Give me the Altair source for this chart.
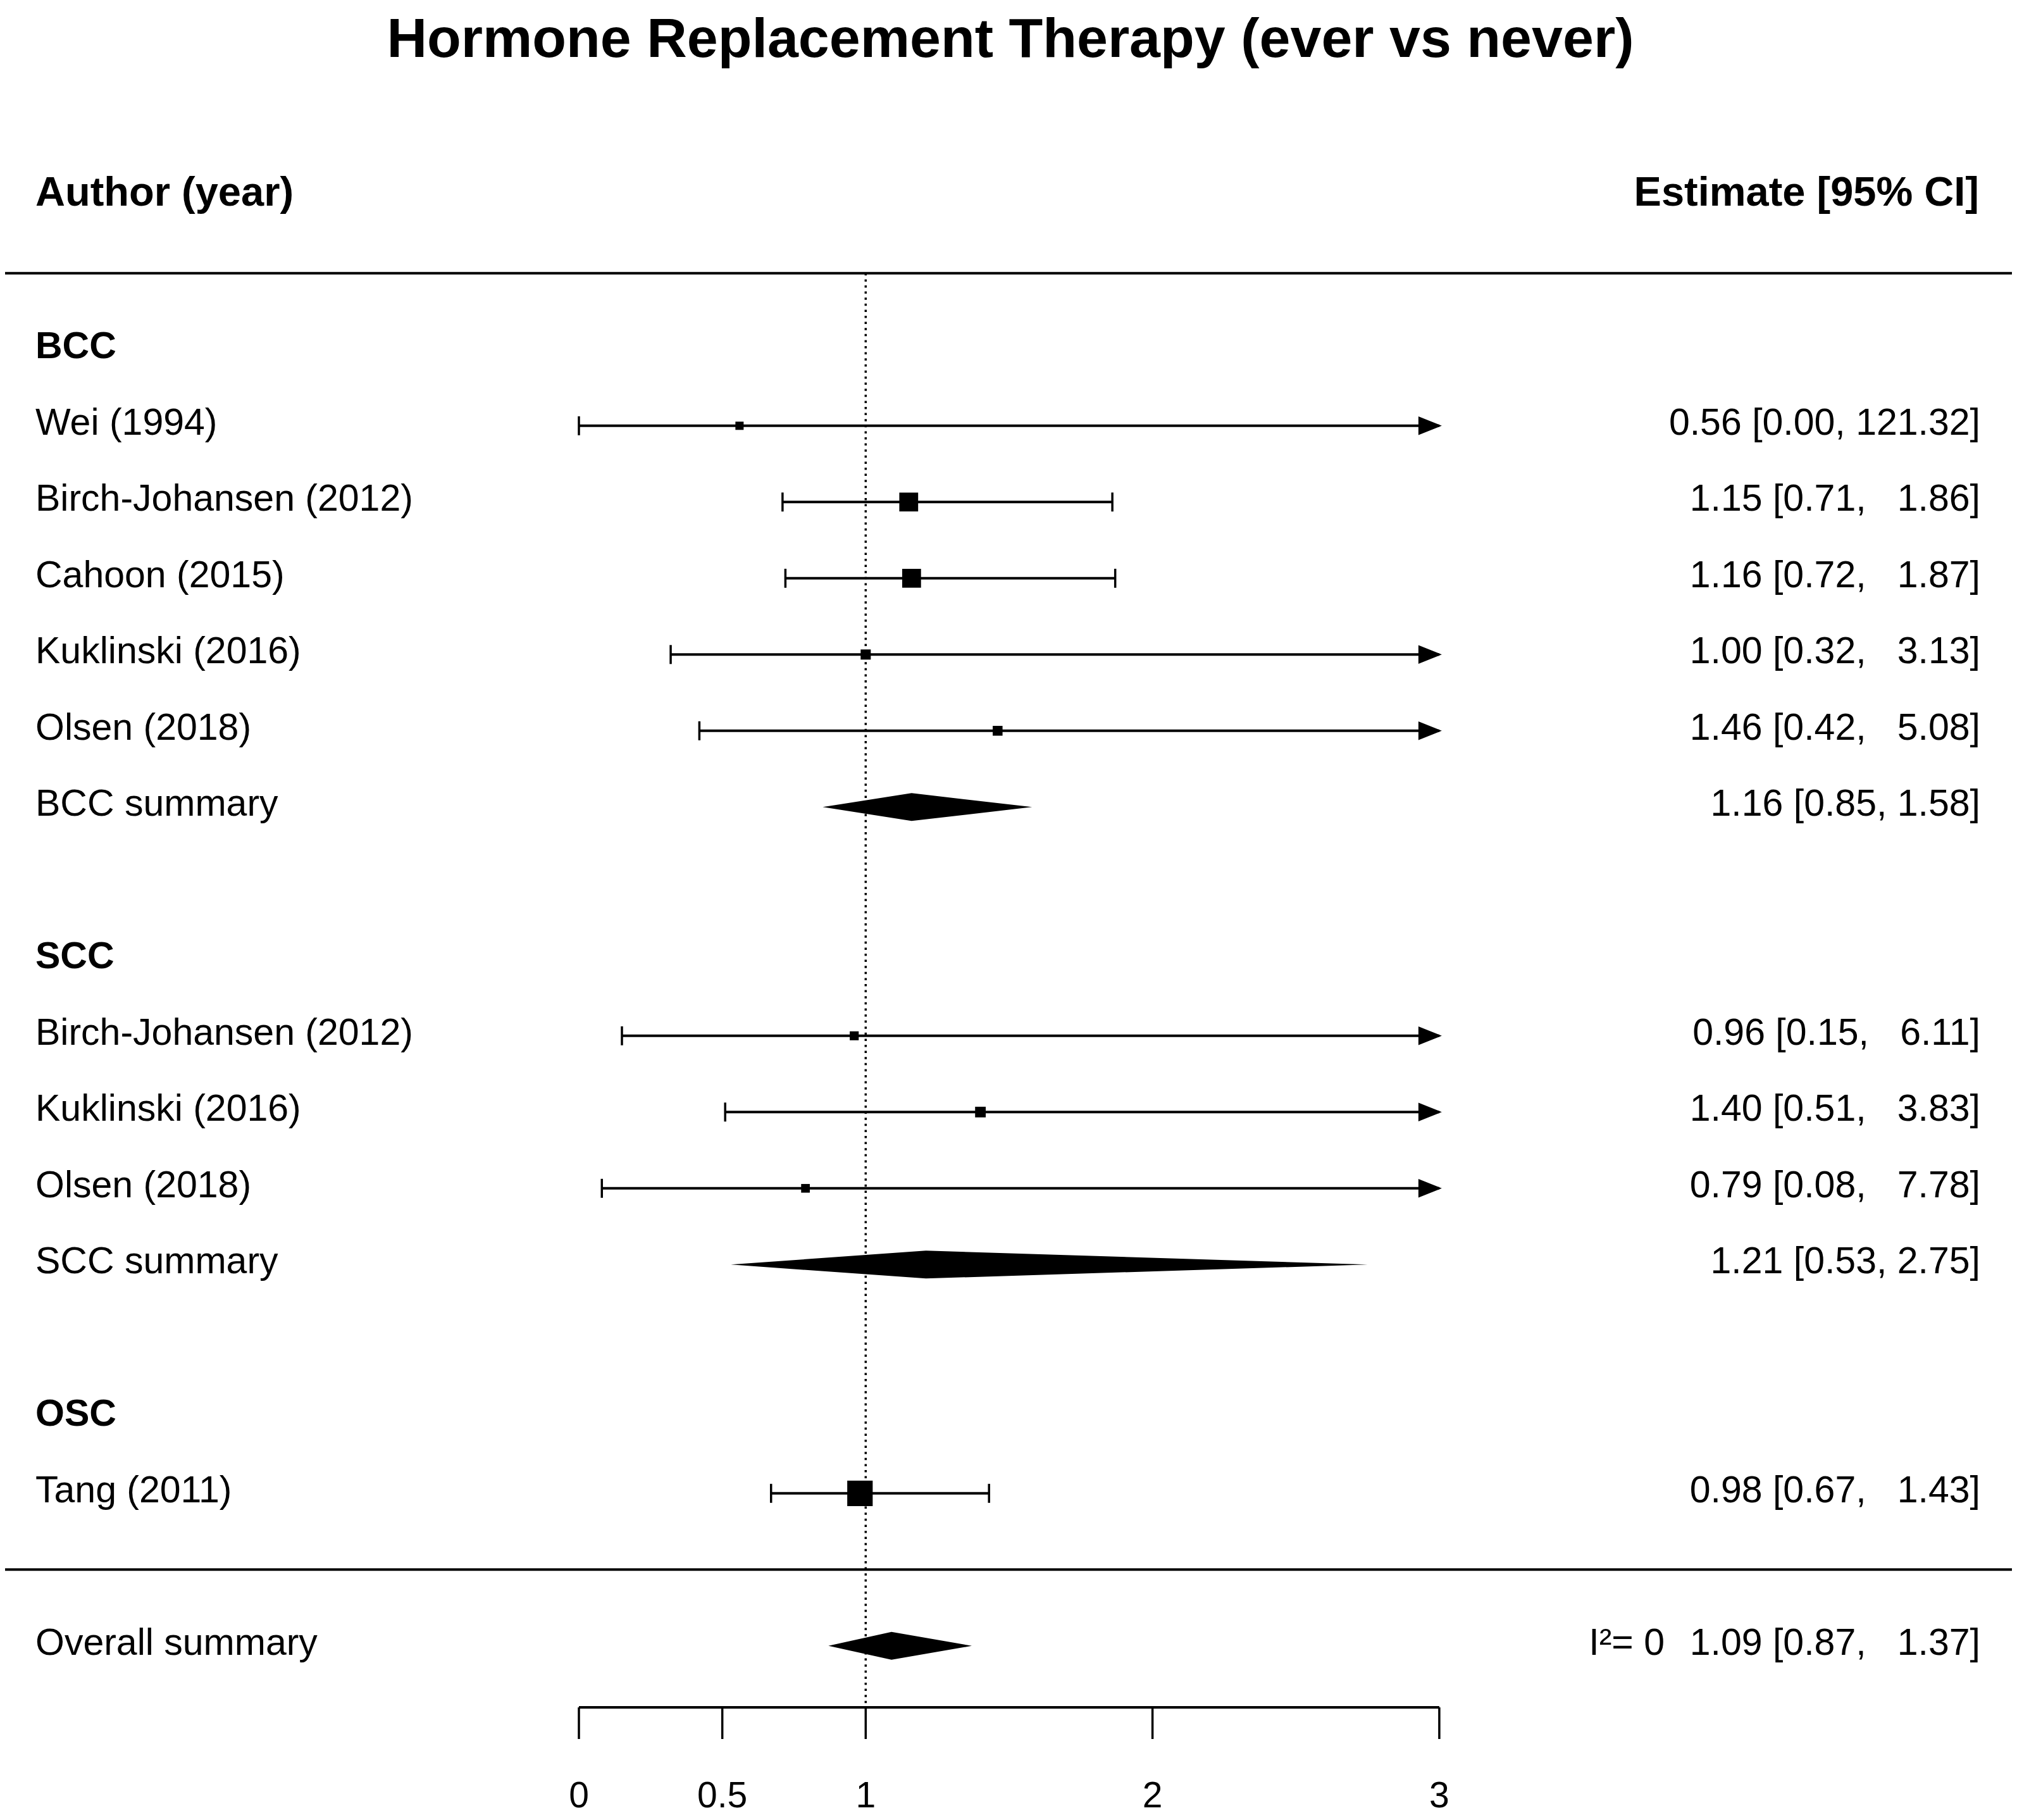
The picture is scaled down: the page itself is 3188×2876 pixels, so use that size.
import altair as alt
import pandas as pd

# ---------------- data ----------------
title_text = "Hormone Replacement Therapy (ever vs never)"
left_header = "Author (year)"
right_header = "Estimate [95% CI]"

bcc_authors = ["Wei (1994)", "Birch-Johansen (2012)", "Cahoon (2015)",
               "Kuklinski (2016)", "Olsen (2018)"]
bcc_est = [0.56, 1.15, 1.16, 1.00, 1.46]
bcc_lo = [0.00, 0.71, 0.72, 0.32, 0.42]
bcc_hi = [121.32, 1.86, 1.87, 3.13, 5.08]
bcc_wt = [0.0, 23.3, 23.3, 4.2, 3.5]          # relative weight (%)
bcc_summary = [1.16, 0.85, 1.58]

scc_authors = ["Birch-Johansen (2012)", "Kuklinski (2016)", "Olsen (2018)"]
scc_est = [0.96, 1.40, 0.79]
scc_lo = [0.15, 0.51, 0.08]
scc_hi = [6.11, 3.83, 7.78]
scc_wt = [1.6, 5.3, 1.0]
scc_summary = [1.21, 0.53, 2.75]

osc_authors = ["Tang (2011)"]
osc_est = [0.98]
osc_lo = [0.67]
osc_hi = [1.43]
osc_wt = [37.8]

overall_label = "Overall summary"
overall = [1.09, 0.87, 1.37]
i2_text = "I\u00b2= 0"

tick_values = [0, 0.5, 1, 2, 3]
null_value = [1]
x_max = 3

# ---------------- layout constants (pixels) ----------------
W, H = 3172, 2860
X0, UNIT = 907.0, 453.3        # pixel of x=0, pixels per unit
ROW0, PITCH = 544.3, 120.5     # pixel of row 0, row pitch
FONT = "Liberation Sans"
NB = "\u00a0"

xs = alt.Scale(domain=[-X0 / UNIT, (W - X0) / UNIT], nice=False, zero=False)
ys = alt.Scale(domain=[-ROW0 / PITCH, (H - ROW0) / PITCH], nice=False,
               zero=False, reverse=True)


def fmt_pad(e, l, h):
    return f"{e:.2f} [{l:.2f}, {h:>6.2f}]".replace(" ", NB)


def fmt_plain(e, l, h):
    return f"{e:.2f} [{l:.2f}, {h:.2f}]".replace(" ", NB)


# ---------------- build tables ----------------
study_rows, label_rows, est_rows, diamond_rows = [], [], [], []
groups = [
    ("BCC", bcc_authors, bcc_est, bcc_lo, bcc_hi, bcc_wt, bcc_summary),
    ("SCC", scc_authors, scc_est, scc_lo, scc_hi, scc_wt, scc_summary),
    ("OSC", osc_authors, osc_est, osc_lo, osc_hi, osc_wt, None),
]
HALF = 22.0 / PITCH  # diamond half height in row units


def add_diamond(key, r, e, l, h):
    diamond_rows.append(dict(key=key, x=l, ytop=r, ybot=r))
    diamond_rows.append(dict(key=key, x=e, ytop=r - HALF, ybot=r + HALF))
    diamond_rows.append(dict(key=key, x=h, ytop=r, ybot=r))


r = 0
for gname, authors, est, lo, hi, wt, summ in groups:
    label_rows.append(dict(row=r, label=gname, bold=True))
    r += 1
    for a, e, l, h, w in zip(authors, est, lo, hi, wt):
        study_rows.append(dict(row=r, est=e, lo=l, hi=h, hi_clip=min(h, x_max),
                               w=w))
        label_rows.append(dict(row=r, label=a, bold=False))
        est_rows.append(dict(row=r, label=fmt_pad(e, l, h)))
        r += 1
    if summ is not None:
        label_rows.append(dict(row=r, label=f"{gname} summary", bold=False))
        est_rows.append(dict(row=r, label=fmt_plain(*summ)))
        add_diamond(gname, r, *summ)
        r += 2

sep_rows = [-1, r]              # rules above first group and below last study
overall_row = r + 1
label_rows.append(dict(row=overall_row, label=overall_label, bold=False))
est_rows.append(dict(row=overall_row, label=fmt_pad(*overall)))
add_diamond("overall", overall_row, *overall)

studies = pd.DataFrame(study_rows)
studies["area"] = (13 + 0.72 * studies["w"]) ** 2
labels = pd.DataFrame(label_rows)
ests = pd.DataFrame(est_rows)
diamonds = pd.DataFrame(diamond_rows)
seps = pd.DataFrame({"row": sep_rows})
ticks = pd.DataFrame({"v": tick_values, "t": [f"{t:g}" for t in tick_values]})
axis_df = pd.DataFrame({"a": [min(tick_values)], "b": [max(tick_values)]})
null_df = pd.DataFrame({"v": null_value})

TOP_Y = ROW0 - PITCH
AXIS_Y = 2690
X = lambda f: alt.X(f, scale=xs, axis=None)
Y = lambda f: alt.Y(f, scale=ys, axis=None)

# ---------------- layers ----------------
sep_layer = alt.Chart(seps).mark_rule(color="black", strokeWidth=4).encode(
    x=alt.value(0), x2=alt.value(3174), y=Y("row:Q"))

null_layer = alt.Chart(null_df).mark_rule(
    color="black", strokeWidth=3.5, strokeDash=[3.5, 6.1]).encode(
    x=X("v:Q"), y=alt.value(TOP_Y), y2=alt.value(AXIS_Y))

ci_layer = alt.Chart(studies).mark_rule(color="black", strokeWidth=4).encode(
    x=X("lo:Q"), x2="hi_clip:Q", y=Y("row:Q"))

cap_lo = alt.Chart(studies).mark_tick(
    orient="vertical", size=30, thickness=3.5, color="black", opacity=1).encode(
    x=X("lo:Q"), y=Y("row:Q"))

cap_hi = alt.Chart(studies).transform_filter(f"datum.hi <= {x_max}").mark_tick(
    orient="vertical", size=30, thickness=3.5, color="black", opacity=1).encode(
    x=X("hi:Q"), y=Y("row:Q"))

arrow_layer = alt.Chart(studies).transform_filter(f"datum.hi > {x_max}").mark_point(
    shape="M-1,-0.8L1,0L-1,0.8Z", filled=True, size=1369, color="black",
    opacity=1, xOffset=-14.5).encode(x=X("hi_clip:Q"), y=Y("row:Q"))

square_layer = alt.Chart(studies).mark_square(
    color="black", opacity=1, filled=True).encode(
    x=X("est:Q"), y=Y("row:Q"), size=alt.Size("area:Q", scale=None))

diamond_layer = alt.Chart(diamonds).mark_area(
    orient="vertical", color="black", opacity=1).encode(
    x=X("x:Q"), y=Y("ytop:Q"), y2="ybot:Q", detail="key:N")

label_norm = alt.Chart(labels).transform_filter("!datum.bold").mark_text(
    align="left", baseline="alphabetic", dy=14, font=FONT, fontSize=59,
    color="black").encode(x=alt.value(48), y=Y("row:Q"), text="label:N")

label_bold = alt.Chart(labels).transform_filter("datum.bold").mark_text(
    align="left", baseline="alphabetic", dy=14, font=FONT, fontSize=59,
    fontWeight="bold", color="black").encode(
    x=alt.value(48), y=Y("row:Q"), text="label:N")

est_layer = alt.Chart(ests).mark_text(
    align="right", baseline="alphabetic", dy=14, font=FONT, fontSize=59,
    color="black").encode(x=alt.value(3122), y=Y("row:Q"), text="label:N")

i2_layer = alt.Chart(pd.DataFrame({"row": [overall_row], "t": [i2_text]})).mark_text(
    align="right", baseline="alphabetic", dy=14, font=FONT, fontSize=59,
    color="black").encode(x=alt.value(2623), y=Y("row:Q"), text="t:N")

hdr = pd.DataFrame({"row": [-2, -2], "t": [left_header, right_header],
                    "side": ["l", "r"]})
hdr_l = alt.Chart(hdr).transform_filter("datum.side == 'l'").mark_text(
    align="left", baseline="alphabetic", dy=14, font=FONT, fontSize=65,
    fontWeight="bold", color="black").encode(
    x=alt.value(48), y=Y("row:Q"), text="t:N")
hdr_r = alt.Chart(hdr).transform_filter("datum.side == 'r'").mark_text(
    align="right", baseline="alphabetic", dy=14, font=FONT, fontSize=65,
    fontWeight="bold", color="black").encode(
    x=alt.value(3120), y=Y("row:Q"), text="t:N")

title_layer = alt.Chart(pd.DataFrame({"t": [title_text]})).mark_text(
    align="center", baseline="alphabetic", font=FONT, fontSize=88,
    fontWeight="bold", color="black").encode(
    x=alt.value(1589), y=alt.value(82), text="t:N")

axis_line = alt.Chart(axis_df).mark_rule(color="black", strokeWidth=4).encode(
    x=X("a:Q"), x2="b:Q", y=alt.value(AXIS_Y))
axis_ticks = alt.Chart(ticks).mark_rule(color="black", strokeWidth=3.5).encode(
    x=X("v:Q"), y=alt.value(AXIS_Y), y2=alt.value(AXIS_Y + 50))
axis_labels = alt.Chart(ticks).mark_text(
    align="center", baseline="alphabetic", font=FONT, fontSize=57,
    color="black").encode(x=X("v:Q"), y=alt.value(2848), text="t:N")

chart = alt.layer(
    sep_layer, null_layer, ci_layer, cap_lo, cap_hi, arrow_layer,
    square_layer, diamond_layer, label_norm, label_bold, est_layer, i2_layer,
    hdr_l, hdr_r, title_layer, axis_line, axis_ticks, axis_labels,
).properties(
    width=W, height=H, padding=0, autosize=alt.AutoSizeParams(type="none"),
    background="white",
).configure_view(stroke=None)

chart.save("out.html", embed_options={"renderer": "svg", "actions": False})
